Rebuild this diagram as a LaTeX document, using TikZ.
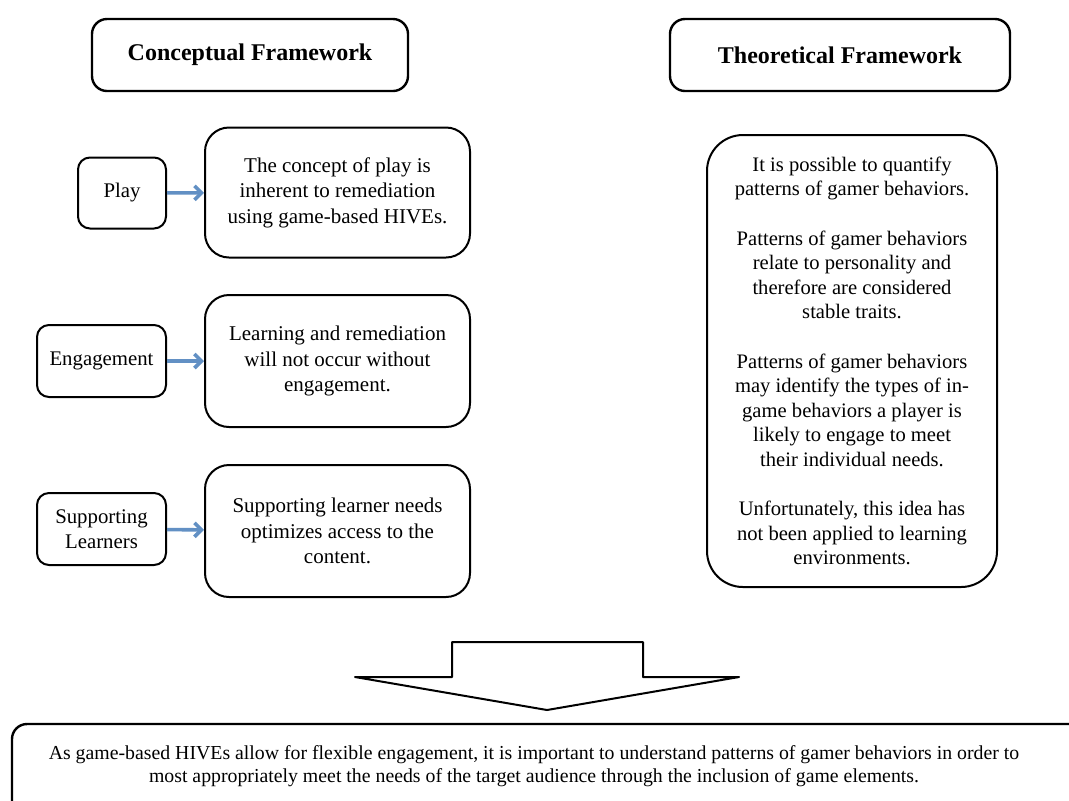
\documentclass[tikz,border=0pt]{standalone}
\usepackage{fontspec}
\setmainfont{Liberation Serif}
\usetikzlibrary{arrows.meta,positioning}
\definecolor{linkblue}{RGB}{98,144,196}
\tikzset{
  headbox/.style={draw, line width=1.2pt, rounded corners=7.5pt, align=center,
    font=\bfseries\fontsize{12}{14}\selectfont},
  keybox/.style={draw, line width=1pt, rounded corners=6pt, align=center,
    font=\fontsize{10.4}{12.5}\selectfont},
  ideabox/.style={draw, line width=1pt, rounded corners=12pt, align=center,
    minimum width=132.5pt, minimum height=65pt, font=\fontsize{10.5}{12.8}\selectfont},
  theorybox/.style={draw, line width=1pt, rounded corners=18pt, align=center,
    minimum width=145pt, minimum height=226pt, font=\fontsize{10.3}{12.3}\selectfont},
  link/.style={draw=linkblue, line width=1.8pt, -{Straight Barb[length=3.5pt,width=7pt]}}
}
\begin{document}
\begin{tikzpicture}[x=0.5pt, y=-0.5pt, line join=round]
    \clip (0,0) rectangle (1069,800);
    \fill[white] (0,0) rectangle (1069,800);
    \coordinate (S1) at (452,642);
    \coordinate (S2) at (643,642);
    \coordinate (S3) at (643,677);
    \coordinate (S4) at (739,677);
    \coordinate (T) at (547,710);
    \coordinate (S5) at (355,677);
    \coordinate (S6) at (452,677);
    \node[headbox, minimum width=158pt, minimum height=36pt] (concept) at (250,55) {Conceptual Framework};
    \node[headbox, minimum width=170pt, minimum height=36pt] (theory) at (840,55) {Theoretical Framework};
    \node[keybox, minimum width=44pt, minimum height=35.5pt] (play) at (122,193) {Play};
    \node[keybox, minimum width=64.5pt, minimum height=36pt] (engage) at (101.5,361) {Engagement};
    \node[keybox, minimum width=64.5pt, minimum height=36pt] (support) at (101.5,529) {Supporting\\Learners};
    \node[ideabox] (playidea) at (337.5,192.5) {The concept of play is\\inherent to remediation\\using game-based HIVEs.};
    \node[ideabox, minimum height=66pt] (engageidea) at (337.5,361) {Learning and remediation\\will not occur without\\engagement.};
    \node[ideabox, minimum height=66pt] (supportidea) at (337.5,531) {Supporting learner needs\\optimizes access to the\\content.};
    \draw[link] (play) -- (playidea);
    \draw[link] (engage) -- (engageidea);
    \draw[link] (support) -- (supportidea);
    \node[theorybox] (ideas) at (852,361) {It is possible to quantify\\patterns of gamer behaviors.\\[12.3pt]
      Patterns of gamer behaviors\\relate to personality and\\therefore are considered\\stable traits.\\[12.3pt]
      Patterns of gamer behaviors\\may identify the types of in-\\game behaviors a player is\\likely to engage to meet\\their individual needs.\\[12.3pt]
      Unfortunately, this idea has\\not been applied to learning\\environments.};
    \draw[line width=1pt] (S1) -- (S2) -- (S3) -- (S4) -- (T) -- (S5) -- (S6) -- cycle;
    \draw[line width=1.2pt, rounded corners=7.5pt] (12,724) rectangle (1110,860);
    \node[align=center, font=\fontsize{9.9}{11.5}\selectfont] (summary) at (534,766)
      {As game-based HIVEs allow for flexible engagement, it is important to understand patterns of gamer behaviors in order to\\
       most appropriately meet the needs of the target audience through the inclusion of game elements.};
\end{tikzpicture}
\end{document}
